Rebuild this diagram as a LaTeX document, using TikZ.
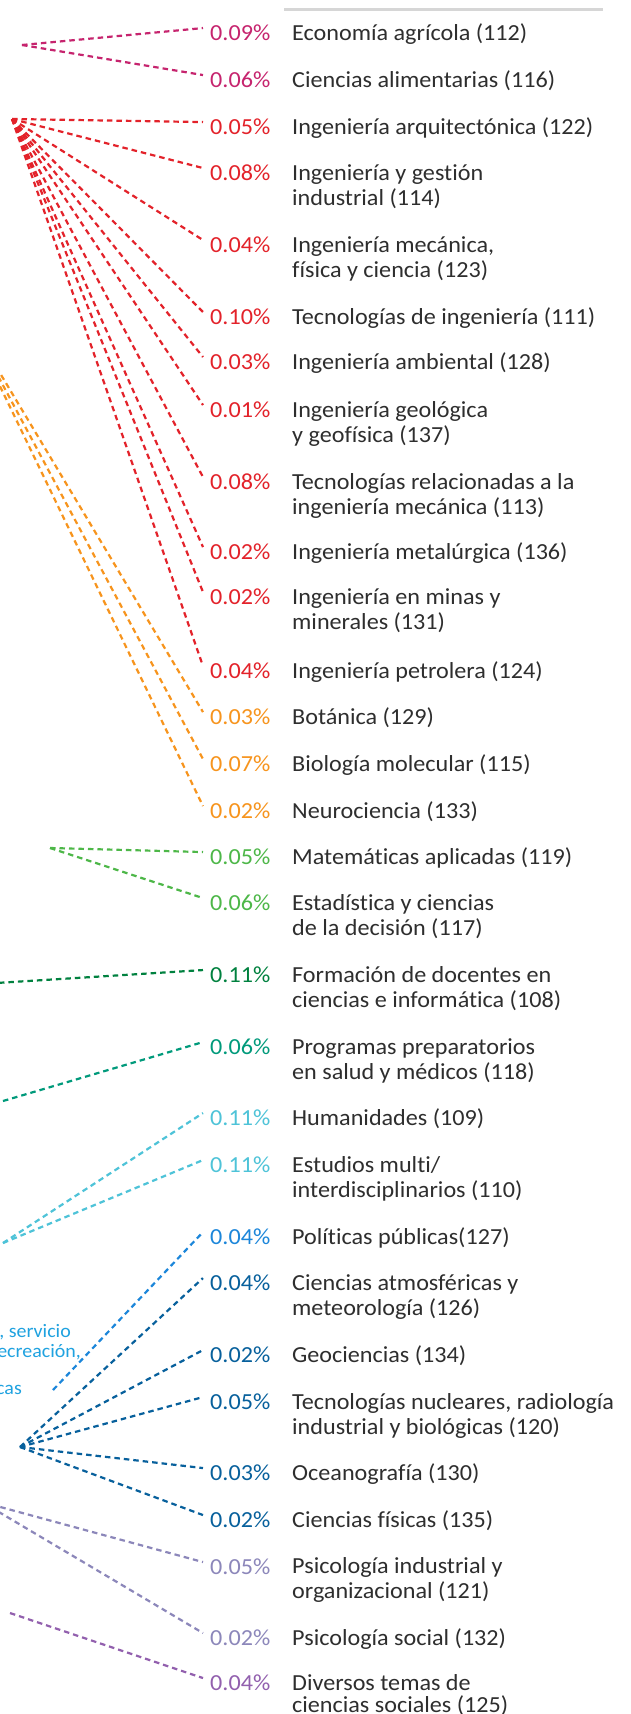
\documentclass[tikz,border=0pt]{standalone}
\usepackage{fontspec}
\setmainfont{Carlito}[FakeStretch=1.05, Ligatures=NoCommon]
\definecolor{cmag}{HTML}{C6246E}
\definecolor{cred}{HTML}{E3222A}
\definecolor{corange}{HTML}{F7941D}
\definecolor{clgreen}{HTML}{4DB748}
\definecolor{cdgreen}{HTML}{00813F}
\definecolor{cteal}{HTML}{009A7B}
\definecolor{ccyan}{HTML}{4EC3D8}
\definecolor{cbblue}{HTML}{1C86DA}
\definecolor{cside}{HTML}{1FA2E0}
\definecolor{cdblue}{HTML}{07609C}
\definecolor{clav}{HTML}{8C87BA}
\definecolor{cpurple}{HTML}{9260AE}
\definecolor{txtgray}{HTML}{2E2E2E}
\definecolor{rulegray}{HTML}{D6D6D6}
\begin{document}
\begin{tikzpicture}[x=1pt,y=-1pt,
  conn/.style={line width=2.2pt, dash pattern=on 5.5pt off 4pt},
  pct/.style={anchor=base west, inner sep=0pt, font=\fontsize{23}{25}\selectfont},
  lbl/.style={anchor=base west, inner sep=0pt, align=left, text=txtgray, font=\fontsize{23}{25}\selectfont},
  side/.style={anchor=base east, inner sep=0pt, text=cside, font=\fontsize{19}{21}\selectfont},
  endpt/.style={xshift=-7pt,yshift=4.7pt}
]
\useasboundingbox (0,0) rectangle (631,1714);
\fill[white] (0,0) rectangle (631,1714);
\clip (0,0) rectangle (631,1714);

% top rule
\coordinate (r1) at (284,9);
\coordinate (r2) at (603,9);
\draw[rulegray, line width=3pt] (r1) -- (r2);

% origins
\coordinate (omag) at (22,45);
\coordinate (ored) at (12,119);
\coordinate (oora) at (-33,318);
\coordinate (olg) at (50,848);
\coordinate (odg) at (-20,984);
\coordinate (otl) at (3,1101);
\coordinate (ocy) at (3,1243);
\coordinate (obb) at (53,1390);
\coordinate (odb) at (20,1447);
\coordinate (olav) at (-18,1502);
\coordinate (opu) at (10,1613);

% percent labels
\node[pct, text=cmag] (p1) at (210,40.5) {0.09\%};
\node[pct, text=cmag] (p2) at (210,87.5) {0.06\%};
\node[pct, text=cred] (p3) at (210,134.5) {0.05\%};
\node[pct, text=cred] (p4) at (210,180.5) {0.08\%};
\node[pct, text=cred] (p5) at (210,252.5) {0.04\%};
\node[pct, text=cred] (p6) at (210,324.5) {0.10\%};
\node[pct, text=cred] (p7) at (210,369.5) {0.03\%};
\node[pct, text=cred] (p8) at (210,417.5) {0.01\%};
\node[pct, text=cred] (p9) at (210,489.5) {0.08\%};
\node[pct, text=cred] (p10) at (210,559.5) {0.02\%};
\node[pct, text=cred] (p11) at (210,604.5) {0.02\%};
\node[pct, text=cred] (p12) at (210,678.5) {0.04\%};
\node[pct, text=corange] (p13) at (210,724.5) {0.03\%};
\node[pct, text=corange] (p14) at (210,771.5) {0.07\%};
\node[pct, text=corange] (p15) at (210,818.5) {0.02\%};
\node[pct, text=clgreen] (p16) at (210,864.5) {0.05\%};
\node[pct, text=clgreen] (p17) at (210,910.5) {0.06\%};
\node[pct, text=cdgreen] (p18) at (210,982.5) {0.11\%};
\node[pct, text=cteal] (p19) at (210,1054.5) {0.06\%};
\node[pct, text=ccyan] (p20) at (210,1125.5) {0.11\%};
\node[pct, text=ccyan] (p21) at (210,1172.5) {0.11\%};
\node[pct, text=cbblue] (p22) at (210,1244.5) {0.04\%};
\node[pct, text=cdblue] (p23) at (210,1290.5) {0.04\%};
\node[pct, text=cdblue] (p24) at (210,1362.5) {0.02\%};
\node[pct, text=cdblue] (p25) at (210,1409.5) {0.05\%};
\node[pct, text=cdblue] (p26) at (210,1480.5) {0.03\%};
\node[pct, text=cdblue] (p27) at (210,1527.5) {0.02\%};
\node[pct, text=clav] (p28) at (210,1574.5) {0.05\%};
\node[pct, text=clav] (p29) at (210,1645.5) {0.02\%};
\node[pct, text=cpurple] (p30) at (210,1690.5) {0.04\%};

% category labels (multi-line nodes: base = baseline of last line)
\node[lbl] (l1) at (292,40.5) {Economía agrícola (112)};
\node[lbl] (l2) at (292,87.5) {Ciencias alimentarias (116)};
\node[lbl] (l3) at (292,134.5) {Ingeniería arquitectónica (122)};
\node[lbl] (l4) at (292,205.5) {Ingeniería y gestión\\industrial (114)};
\node[lbl] (l5) at (292,277.5) {Ingeniería mecánica,\\física y ciencia (123)};
\node[lbl] (l6) at (292,324.5) {Tecnologías de ingeniería (111)};
\node[lbl] (l7) at (292,369.5) {Ingeniería ambiental (128)};
\node[lbl] (l8) at (292,442.5) {Ingeniería geológica\\y geofísica (137)};
\node[lbl] (l9) at (292,514.5) {Tecnologías relacionadas a la\\ingeniería mecánica (113)};
\node[lbl] (l10) at (292,559.5) {Ingeniería metalúrgica (136)};
\node[lbl] (l11) at (292,629.5) {Ingeniería en minas y\\minerales (131)};
\node[lbl] (l12) at (292,678.5) {Ingeniería petrolera (124)};
\node[lbl] (l13) at (292,724.5) {Botánica (129)};
\node[lbl] (l14) at (292,771.5) {Biología molecular (115)};
\node[lbl] (l15) at (292,818.5) {Neurociencia (133)};
\node[lbl] (l16) at (292,864.5) {Matemáticas aplicadas (119)};
\node[lbl] (l17) at (292,935.5) {Estadística y ciencias\\de la decisión (117)};
\node[lbl] (l18) at (292,1007.5) {Formación de docentes en\\ciencias e informática (108)};
\node[lbl] (l19) at (292,1079.5) {Programas preparatorios\\en salud y médicos (118)};
\node[lbl] (l20) at (292,1125.5) {Humanidades (109)};
\node[lbl] (l21) at (292,1197.5) {Estudios multi/\\interdisciplinarios (110)};
\node[lbl] (l22) at (292,1244.5) {Políticas públicas(127)};
\node[lbl] (l23) at (292,1315.5) {Ciencias atmosféricas y\\meteorología (126)};
\node[lbl] (l24) at (292,1362.5) {Geociencias (134)};
\node[lbl] (l25) at (292,1434.5) {Tecnologías nucleares, radiología\\industrial y biológicas (120)};
\node[lbl] (l26) at (292,1480.5) {Oceanografía (130)};
\node[lbl] (l27) at (292,1527.5) {Ciencias físicas (135)};
\node[lbl] (l28) at (292,1598.5) {Psicología industrial y\\organizacional (121)};
\node[lbl] (l29) at (292,1645.5) {Psicología social (132)};
\node[lbl, font=\fontsize{23}{22}\selectfont] (l30) at (292,1712) {Diversos temas de\\ciencias sociales (125)};

% left partial texts
\node[side] (s1) at (71,1337.5) {, servicio};
\node[side] (s2) at (81,1357.5) {ecreación,};
\node[side] (s3) at (22,1394.5) {cas};

% connectors
\foreach \i in {1,2} \draw[conn, cmag] (omag) -- ([endpt]p\i.west);
\foreach \i in {3,...,12} \draw[conn, cred] (ored) -- ([endpt]p\i.west);
\foreach \i in {13,14,15} \draw[conn, corange] (oora) -- ([endpt]p\i.west);
\foreach \i in {16,17} \draw[conn, clgreen] (olg) -- ([endpt]p\i.west);
\draw[conn, cdgreen] (odg) -- ([endpt]p18.west);
\draw[conn, cteal] (otl) -- ([endpt]p19.west);
\foreach \i in {20,21} \draw[conn, ccyan] (ocy) -- ([endpt]p\i.west);
\draw[conn, cbblue] (obb) -- ([endpt]p22.west);
\foreach \i in {23,...,27} \draw[conn, cdblue] (odb) -- ([endpt]p\i.west);
\foreach \i in {28,29} \draw[conn, clav] (olav) -- ([endpt]p\i.west);
\draw[conn, cpurple] (opu) -- ([endpt]p30.west);
\end{tikzpicture}
\end{document}
